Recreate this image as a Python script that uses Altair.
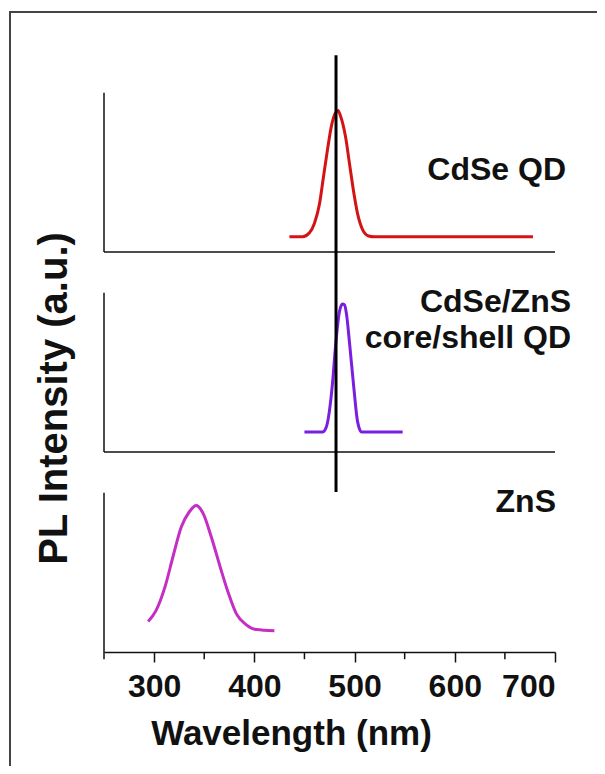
import altair as alt
import pandas as pd

# ---- data ----
cdse_nm = [435, 448, 455, 460, 465, 469, 473, 477, 481, 483.5, 486, 491, 495, 499, 503, 508, 514, 520, 600, 678]
cdse_int = [0.095, 0.095, 0.12, 0.18, 0.30, 0.47, 0.64, 0.79, 0.87, 0.885, 0.85, 0.72, 0.55, 0.38, 0.24, 0.14, 0.10, 0.095, 0.095, 0.095]

core_nm = [450, 468, 472, 475, 478, 481, 485, 488, 490, 492, 495, 499, 503, 507, 520, 548]
core_int = [0.125, 0.125, 0.16, 0.26, 0.43, 0.66, 0.88, 0.925, 0.92, 0.86, 0.68, 0.42, 0.19, 0.125, 0.125, 0.125]

zns_nm = [294, 302, 311, 319, 327, 335, 342, 349, 357, 366, 374, 382, 392, 402, 420]
zns_int = [0.19, 0.26, 0.41, 0.60, 0.78, 0.875, 0.915, 0.865, 0.72, 0.53, 0.37, 0.24, 0.17, 0.14, 0.133]

samples = ["CdSe QD", "CdSe/ZnS", "ZnS"]
offsets = [2.5, 1.25, 0.0]
colors = ["#d41414", "#7a1fe0", "#c42ec4"]

x_ticks = [300, 400, 500, 600, 700]
minor_ticks = [250, 350, 450, 550, 650]

ref_line_nm = 481.5

label_text = ["CdSe QD", "CdSe/ZnS", "core/shell QD", "ZnS"]
label_nm = [711, 716, 716, 701]
label_y = [3.01, 2.19, 1.96, 0.94]

FONT = "Liberation Sans"

rows = []
for name, nms, ints, off in zip(samples, [cdse_nm, core_nm, zns_nm], [cdse_int, core_int, zns_int], offsets):
    for a, b in zip(nms, ints):
        rows.append({"sample": name, "nm": a, "inten": b, "off": off})
spec_df = pd.DataFrame(rows)

panel_df = pd.DataFrame({"off": offsets})
minor_df = pd.DataFrame({"nm": minor_ticks})
label_df = pd.DataFrame({"text": label_text, "nm": label_nm, "y": label_y})
vline_df = pd.DataFrame({"nm": [ref_line_nm], "y0": [1.0], "y1": [3.73]})

xscale = alt.Scale(domain=[250, 700], nice=False, zero=False)
yscale = alt.Scale(domain=[0, 3.75], nice=False, zero=False)

frame = alt.Chart(alt.Data(values=[{}])).mark_rect(
    filled=False, stroke="#444444", strokeWidth=2
).encode(
    x=alt.value(-94), x2=alt.value(700), y=alt.value(-40), y2=alt.value(900)
)

# bottom-panel axis (with labels) & shared title
axis_layer = alt.Chart(panel_df).mark_rule(opacity=0).encode(
    x=alt.X("a:Q", scale=xscale, axis=alt.Axis(
        values=x_ticks, grid=False, domainColor="#111", domainWidth=1.5,
        tickColor="#111", tickWidth=1.5, tickSize=10,
        labelFont=FONT, labelFontSize=32, labelFontWeight="bold", labelColor="#111",
        labelBaseline="alphabetic", labelPadding=34,
        title="Wavelength (nm)", titleFont=FONT, titleFontSize=35, titleFontWeight="bold",
        titleColor="#111", titleX=187, titleY=92, titleBaseline="alphabetic", titleAlign="center")),
    y=alt.Y("b:Q", scale=yscale, axis=alt.Axis(
        domain=False, ticks=False, labels=False, grid=False,
        title="PL Intensity (a.u.)", titleFont=FONT, titleFontSize=40, titleFontWeight="bold",
        titleColor="#111", titleAngle=270, titleX=-50, titleY=346,
        titleAlign="center", titleBaseline="middle")),
).transform_calculate(a="250", b="0")

# panel axis lines
hlines = alt.Chart(panel_df).transform_filter("datum.off > 0").transform_calculate(
    xa="250", xb="700"
).mark_rule(color="#111", strokeWidth=1.5).encode(
    x=alt.X("xa:Q", scale=xscale), x2="xb:Q", y=alt.Y("off:Q", scale=yscale)
)
vlines = alt.Chart(panel_df).transform_calculate(
    xa="250", top="datum.off + 0.995"
).mark_rule(color="#111", strokeWidth=1.5).encode(
    x=alt.X("xa:Q", scale=xscale), y=alt.Y("off:Q", scale=yscale), y2="top:Q"
)

minor = alt.Chart(minor_df).transform_calculate(y0="0", y1="-0.045").mark_rule(
    color="#111", strokeWidth=1.5
).encode(x=alt.X("nm:Q", scale=xscale), y=alt.Y("y0:Q", scale=yscale), y2="y1:Q")

spectra = alt.Chart(spec_df).transform_calculate(
    yy="datum.inten + datum.off"
).mark_line(strokeWidth=3, interpolate="monotone").encode(
    x=alt.X("nm:Q", scale=xscale),
    y=alt.Y("yy:Q", scale=yscale),
    color=alt.Color("sample:N", scale=alt.Scale(domain=samples, range=colors), legend=None),
    detail="sample:N",
)

refline = alt.Chart(vline_df).mark_rule(color="#000", strokeWidth=3).encode(
    x=alt.X("nm:Q", scale=xscale), y=alt.Y("y0:Q", scale=yscale), y2="y1:Q"
)

labels = alt.Chart(label_df).mark_text(
    align="right", baseline="middle", font=FONT, fontSize=32, fontWeight="bold", color="#111"
).encode(x=alt.X("nm:Q", scale=xscale), y=alt.Y("y:Q", scale=yscale), text="text:N")

chart = alt.layer(frame, axis_layer, hlines, vlines, minor, spectra, refline, labels).properties(
    width=451, height=600,
    padding={"left": 96, "top": 44, "right": 42, "bottom": 114},
    autosize=alt.AutoSizeParams(type="none"),
    background="white",
).configure_view(stroke=None)

chart.save("out.html", embed_options={"renderer": "svg", "actions": False})
